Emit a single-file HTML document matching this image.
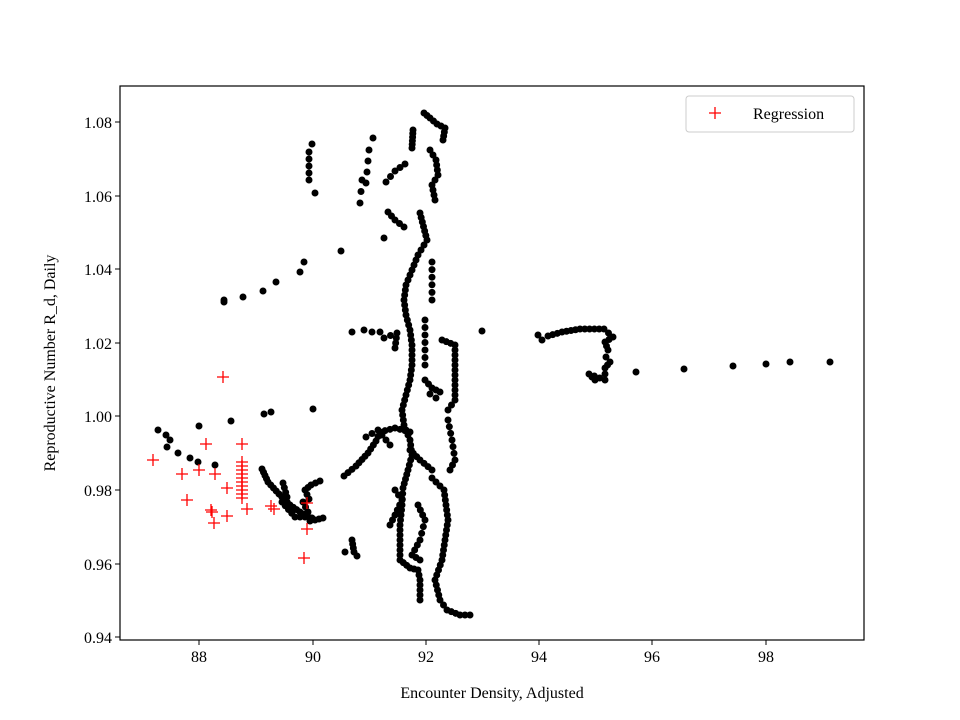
<!DOCTYPE html>
<html><head><meta charset="utf-8"><style>body{margin:0;background:#fff}svg{display:block}text{font-family:"Liberation Serif",serif;font-size:16px}</style></head>
<body>
<svg id="s" width="960" height="720" viewBox="0 0 960 720">
<rect width="960" height="720" fill="#fff"/>
<g id="pts"></g>
<rect x="120" y="86" width="744" height="554" fill="none" stroke="#000" stroke-width="1.2"/>
<g stroke="#000" stroke-width="1">
<line x1="199" y1="640" x2="199" y2="645"/><line x1="313" y1="640" x2="313" y2="645"/><line x1="426" y1="640" x2="426" y2="645"/><line x1="539" y1="640" x2="539" y2="645"/><line x1="652" y1="640" x2="652" y2="645"/><line x1="766" y1="640" x2="766" y2="645"/>
<line x1="115" y1="122" x2="120" y2="122"/><line x1="115" y1="196" x2="120" y2="196"/><line x1="115" y1="269" x2="120" y2="269"/><line x1="115" y1="343" x2="120" y2="343"/><line x1="115" y1="416" x2="120" y2="416"/><line x1="115" y1="490" x2="120" y2="490"/><line x1="115" y1="564" x2="120" y2="564"/><line x1="115" y1="637" x2="120" y2="637"/>
</g>
<g text-anchor="middle">
<text x="199" y="662">88</text><text x="313" y="662">90</text><text x="426" y="662">92</text><text x="539" y="662">94</text><text x="652" y="662">96</text><text x="766" y="662">98</text>
<text x="492" y="698">Encounter Density, Adjusted</text>
</g>
<g text-anchor="end">
<text x="112" y="128">1.08</text><text x="112" y="202">1.06</text><text x="112" y="275">1.04</text><text x="112" y="349">1.02</text><text x="112" y="422">1.00</text><text x="112" y="496">0.98</text><text x="112" y="570">0.96</text><text x="112" y="643">0.94</text>
</g>
<text transform="translate(55,363) rotate(-90)" text-anchor="middle">Reproductive Number R_d, Daily</text>
<rect x="686" y="96" width="168" height="36" rx="3" fill="#fff" stroke="#ccc"/>
<path d="M709 113h12M715 107v12" stroke="red" stroke-width="1.3"/>
<text x="753" y="119">Regression</text>
</svg>
<script>
var g=document.getElementById('pts'),h='';
function d(x,y){h+='<circle cx="'+x+'" cy="'+y+'" r="3.5" fill="#000"/>';}
function p(x,y){h+='<path d="M'+(x-6)+' '+y+'h12M'+x+' '+(y-6)+'v12" stroke="red" stroke-width="1.3"/>';}
function line(a,step){step=step||5;for(var i=0;i<a.length-1;i++){var x1=a[i][0],y1=a[i][1],x2=a[i+1][0],y2=a[i+1][1];var L=Math.hypot(x2-x1,y2-y1),n=Math.max(1,Math.round(L/step));for(var k=0;k<n;k++){d(x1+(x2-x1)*k/n,y1+(y2-y1)*k/n);}}d(a[a.length-1][0],a[a.length-1][1]);}
var single=[[158,430],[166,435],[170,440],[167,447],[178,453],[190,458],[198,462],[215,465],[199,426],[231,421],[224,300],[224,302],[243,297],[263,291],[276,282],[300,272],[304,262],[315,193],[341,251],[264,414],[271,412],[313,409],[373,138],[372,332],[364,330],[352,332],[380,332],[384,238],[482,331],[636,372],[684,369],[733,366],[766,364],[790,362],[830,362],[345,552]];
single.forEach(function(q){d(q[0],q[1]);});
line([[309,180],[309,152],[312,144]],8);
line([[262,469],[268,482],[279,494],[290,505],[300,512],[315,520],[323,518]],4);
line([[283,483],[287,497],[282,502],[295,517],[305,517],[310,521]],5);
line([[320,481],[311,485],[305,490],[309,499],[303,502],[308,512],[312,518]],5);
line([[344,476],[356,466],[368,453],[376,441],[380,432],[395,428],[410,432]],5);
line([[366,437],[378,430],[390,445]],6);
line([[352,540],[354,552],[357,556]],4);
line([[360,203],[362,180],[366,183],[369,150]],10);
line([[386,182],[395,171],[405,164]],6);
line([[388,212],[395,220],[404,227]],6);
line([[384,338],[397,333],[395,348]],6);
line([[424,113],[430,118],[437,124],[445,128],[443,140]],4);
line([[413,130],[412,148]],4);
line([[430,150],[436,160],[438,175],[432,185],[435,200]],6);
line([[420,213],[427,240],[418,255],[412,270],[406,285],[404,300],[406,315],[410,330],[412,345],[412,365],[410,380],[406,395],[402,410],[404,425],[410,440],[412,455],[408,470],[403,488],[402,505],[400,525],[400,545],[400,560],[410,568],[418,570],[420,580],[420,600]],5);
line([[432,262],[432,300]],8);
line([[425,320],[425,365]],7);
line([[425,380],[432,388],[440,392],[436,398],[430,394]],5);
line([[442,340],[455,345],[455,400],[448,410]],5);
line([[448,420],[452,440],[455,460],[450,470]],6);
line([[432,478],[444,490],[448,520],[445,540],[442,560],[435,580],[440,600],[447,610],[460,615],[470,615]],5);
line([[410,450],[420,460],[432,470]],5);
line([[395,490],[402,500],[395,515],[390,525]],6);
line([[418,505],[425,520],[420,540],[412,555],[420,560]],6);
line([[538,335],[542,340],[548,336],[562,332],[580,329],[604,329],[613,337],[605,342],[608,350],[606,357],[610,362],[605,368],[605,380],[589,374],[595,380]],5);
[[153,460],[182,474],[187,500],[199,470],[206,444],[215,474],[211,510],[214,523],[212,512],[227,488],[227,516],[223,377],[242,444],[242,462],[242,466],[242,470],[242,474],[242,478],[242,482],[242,486],[242,490],[242,494],[242,498],[247,509],[271,506],[274,509],[304,558],[307,503],[307,529]].forEach(function(q){p(q[0],q[1]);});
g.innerHTML=h;
</script>
</body></html>
